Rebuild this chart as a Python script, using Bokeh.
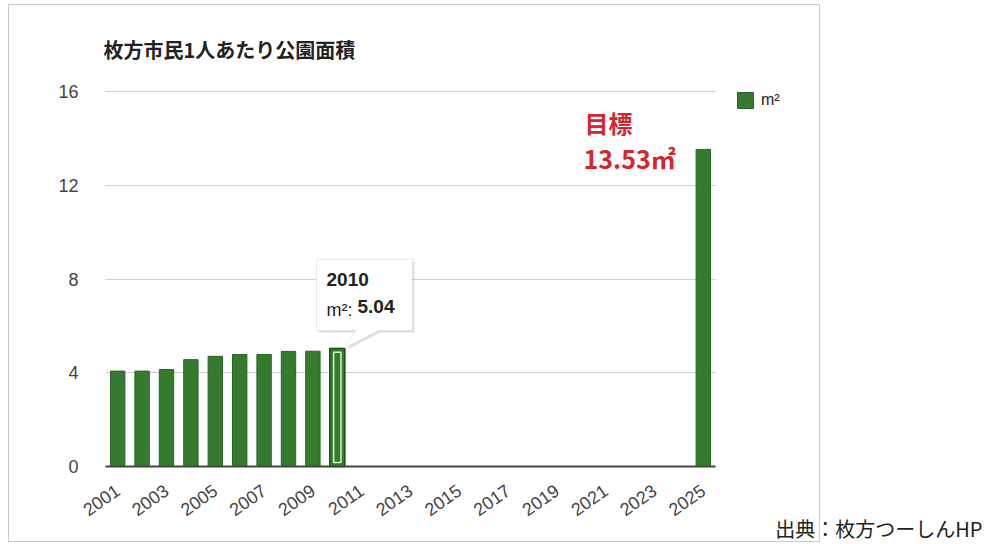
import math
from bokeh.plotting import figure
from bokeh.models import (ColumnDataSource, Range1d, FixedTicker, Label,
                          PolyAnnotation, Legend, LegendItem)
from bokeh.embed import file_html
from bokeh.resources import INLINE

# ---- data ----
years = [2001, 2002, 2003, 2004, 2005, 2006, 2007, 2008, 2009, 2010, 2025]
park_area = [4.07, 4.07, 4.14, 4.56, 4.70, 4.78, 4.78, 4.91, 4.92, 5.04, 13.53]
x_tick_years = [2001, 2003, 2005, 2007, 2009, 2011, 2013, 2015, 2017, 2019, 2021, 2023, 2025]
y_ticks = [0, 4, 8, 12, 16]
series_name = "m²"
title_text = "枚方市民1人あたり公園面積"
target_lines = ["目標", "13.53㎡"]
highlight_year = 2010
credit_text = "出典：枚方つーしんHP"

GREEN = "#357a2f"
GREEN_EDGE = "#2a6526"

W, H = 984, 544
X_START, X_END = 2000.5, 2025.5     # category span of the chart
Y_MAX = 16
FL, FR, FT, FB = 105, 715, 91, 466   # chart area edges (page px)


def xd(px):
    return X_START + (px - FL) * (X_END - X_START) / (FR - FL)


def yd(py):
    return (FB - py) * Y_MAX / (FB - FT)


box_css = ("linear-gradient(#c8c8c8,#c8c8c8) 8px 4px / 1px 537px no-repeat, "
           "linear-gradient(#c8c8c8,#c8c8c8) 819px 4px / 1px 537px no-repeat, "
           "linear-gradient(#c8c8c8,#c8c8c8) 8px 4px / 812px 1px no-repeat, "
           "linear-gradient(#c8c8c8,#c8c8c8) 8px 541px / 812px 1px no-repeat, white")

# the drawing frame covers the whole canvas; both axes are placed at fixed data locations
p = figure(width=W, height=H,
           x_range=Range1d(xd(0), xd(W)), y_range=Range1d(yd(H), yd(0)),
           output_backend="svg", toolbar_location=None, title=None,
           min_border_left=0, min_border_right=0, min_border_top=0, min_border_bottom=0,
           styles={"background": box_css})
p.outline_line_color = None
p.background_fill_alpha = 0
p.border_fill_alpha = 0

# grid limited to the chart area
p.xgrid.grid_line_color = None
yg = p.ygrid[0]
yg.ticker = FixedTicker(ticks=y_ticks)
yg.grid_line_color = "#cfcfcf"
yg.grid_line_width = 1
yg.bounds = (0, Y_MAX)
if hasattr(yg, "cross_bounds"):
    yg.cross_bounds = (X_START, X_END)
else:
    yg.grid_line_color = None
    p.segment(x0=[X_START] * len(y_ticks), x1=[X_END] * len(y_ticks), y0=y_ticks, y1=y_ticks,
              line_color="#cfcfcf", line_width=1, level="underlay")

xa = p.xaxis[0]
xa.fixed_location = 0
xa.ticker = FixedTicker(ticks=x_tick_years)
xa.bounds = (X_START, X_END)
xa.major_label_orientation = math.radians(35)
xa.major_tick_line_color = None
xa.minor_tick_line_color = None
xa.axis_line_color = "#444444"
xa.axis_line_width = 2
xa.major_label_text_font = "Liberation Sans"
xa.major_label_text_font_size = "18px"
xa.major_label_text_color = "#444444"
xa.major_label_standoff = 16

ya = p.yaxis[0]
ya.fixed_location = X_START
ya.ticker = FixedTicker(ticks=y_ticks)
ya.bounds = (0, Y_MAX)
ya.axis_line_color = None
ya.major_tick_line_color = None
ya.minor_tick_line_color = None
ya.major_label_text_font = "Liberation Sans"
ya.major_label_text_font_size = "18px"
ya.major_label_text_color = "#444444"
ya.major_label_standoff = 21

src = ColumnDataSource(dict(year=years, area=park_area))
bars = p.vbar(x="year", top="area", width=0.59, source=src,
              fill_color=GREEN, line_color=GREEN_EDGE, line_width=1)

# highlighted bar (hover look)
hi_val = park_area[years.index(highlight_year)]
p.vbar(x=[highlight_year], top=[hi_val], width=0.62, fill_color=GREEN,
       line_color="#22521e", line_width=1.5)
p.vbar(x=[highlight_year], top=[hi_val - 0.17], bottom=[0.17], width=0.3,
       fill_alpha=0, line_color="#d9efc6", line_width=1.5)

# legend (inside the frame, to the right of the chart area)
legend = Legend(items=[LegendItem(label=series_name, renderers=[bars])],
                location=(735, H - 110), padding=0, margin=0, border_line_color=None,
                background_fill_alpha=0, glyph_width=20, glyph_height=20,
                label_height=20, label_standoff=6, label_text_font="Liberation Sans",
                label_text_font_size="16px", label_text_color="#222222")
p.add_layout(legend)

# title
p.add_layout(Label(x=xd(103), y=yd(34), text=title_text, text_align="left", text_baseline="top",
                   text_font="Noto Sans CJK JP", text_font_style="bold",
                   text_font_size="20px", text_color="#222222"))

# target annotation (red)
p.add_layout(Label(x=xd(584), y=yd(104), text=target_lines[0], text_align="left",
                   text_baseline="top", text_font="Noto Sans CJK JP", text_font_style="bold",
                   text_font_size="24px", text_color="#d6262d"))
p.add_layout(Label(x=xd(583), y=yd(139), text=target_lines[1], text_align="left",
                   text_baseline="top", text_font="Noto Sans CJK JP", text_font_style="bold",
                   text_font_size="25px", text_color="#d6262d"))

# tooltip callout
tip_x = [316, 412, 412, 378, 345, 355, 316]
tip_y = [259, 259, 330, 330, 347, 330, 330]
p.add_layout(PolyAnnotation(xs=[xd(v + 2) for v in tip_x], ys=[yd(v + 2) for v in tip_y],
                            fill_color="#000000", fill_alpha=0.12, line_alpha=0))
p.add_layout(PolyAnnotation(xs=[xd(v) for v in tip_x], ys=[yd(v) for v in tip_y],
                            fill_color="white", fill_alpha=1, line_color="#bdbdbd", line_width=1))
p.add_layout(Label(x=xd(326), y=yd(272), text=str(highlight_year), text_align="left",
                   text_baseline="top", text_font="Liberation Sans", text_font_style="bold",
                   text_font_size="19px", text_color="#222222"))
p.add_layout(Label(x=xd(326), y=yd(299), text=series_name + ":", text_align="left",
                   text_baseline="top", text_font="Liberation Sans",
                   text_font_size="18px", text_color="#222222"))
p.add_layout(Label(x=xd(357), y=yd(299), text=f"{hi_val:.2f}", text_align="left",
                   text_baseline="top", text_font="Liberation Sans", text_font_style="bold",
                   text_font_size="19px", text_color="#222222"))

# credit
p.add_layout(Label(x=xd(982), y=yd(528), text=credit_text, text_align="right",
                   text_baseline="middle", text_font="Noto Sans CJK JP",
                   text_font_size="20px", text_color="#222222"))

open("out.html", "w").write(file_html(p, INLINE))
